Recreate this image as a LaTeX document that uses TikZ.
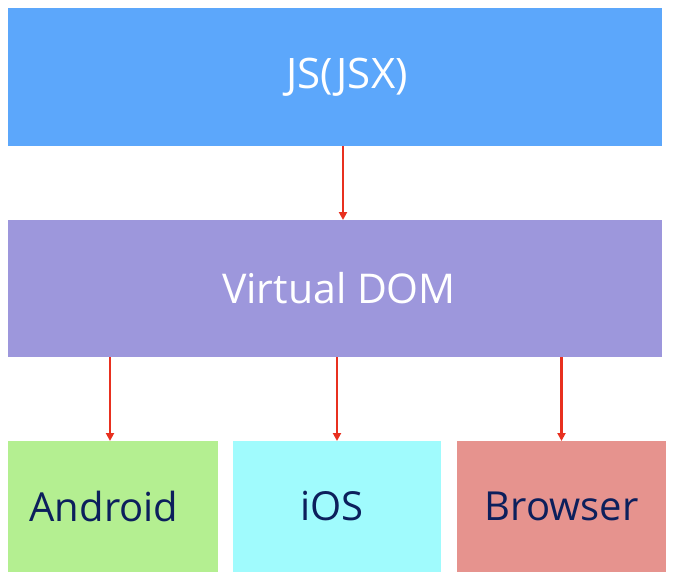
\documentclass[tikz,border=0pt]{standalone}
\usepackage{fontspec}
\setmainfont{Open Sans}
\usepackage{xcolor}
\usepackage{tikz}
\usetikzlibrary{positioning,arrows.meta}

\definecolor{jsblue}{HTML}{5CA7FB}
\definecolor{vdompurple}{HTML}{9D97DC}
\definecolor{androidgreen}{HTML}{B4EF91}
\definecolor{ioscyan}{HTML}{A0FBFD}
\definecolor{browserred}{HTML}{E6938E}
\definecolor{navytext}{HTML}{0C1F5C}
\definecolor{arrowred}{HTML}{E8301F}

\begin{document}
\begin{tikzpicture}[
  >={Triangle[width=8pt,length=8pt]},
  layerbox/.style={inner sep=0pt, outer sep=0pt, minimum width=654pt, minimum height=138pt,
                   text=white, font=\fontsize{42}{48}\selectfont},
  platbox/.style={inner sep=0pt, outer sep=0pt, minimum height=131pt,
                  text=navytext, font=\fontsize{40}{48}\selectfont},
  flow/.style={->, draw=arrowred, fill=arrowred, line width=2.4pt},
]
\useasboundingbox (0pt,0pt) rectangle (675pt,-579pt);

% top layers
\node[layerbox, fill=jsblue, anchor=north west] (jsx) at (8pt,-8pt) {\hspace*{24pt}JS(JSX)};
\node[layerbox, fill=vdompurple, minimum height=137pt, below=74pt of jsx,
      font=\fontsize{41}{48}\selectfont] (vdom) {\hspace*{8pt}Virtual DOM};

% platforms
\node[platbox, fill=androidgreen, minimum width=210pt,
      below right=84pt and 0pt of vdom.south west] (android) {Android\hspace*{18pt}};
\node[platbox, fill=ioscyan, minimum width=208pt, right=15pt of android] (ios) {iOS\hspace*{10pt}};
\node[platbox, fill=browserred, minimum width=209pt, right=16pt of ios] (browser) {Browser};

% arrows
\draw[flow] ([xshift=8pt]jsx.south) -- ([xshift=8pt]vdom.north);
\draw[flow] ([xshift=-3pt]vdom.south -| android) -- ([xshift=-3pt]android.north);
\draw[flow] (vdom.south -| ios) -- (ios);
\draw[flow] (vdom.south -| browser) -- (browser);

\end{tikzpicture}
\end{document}
